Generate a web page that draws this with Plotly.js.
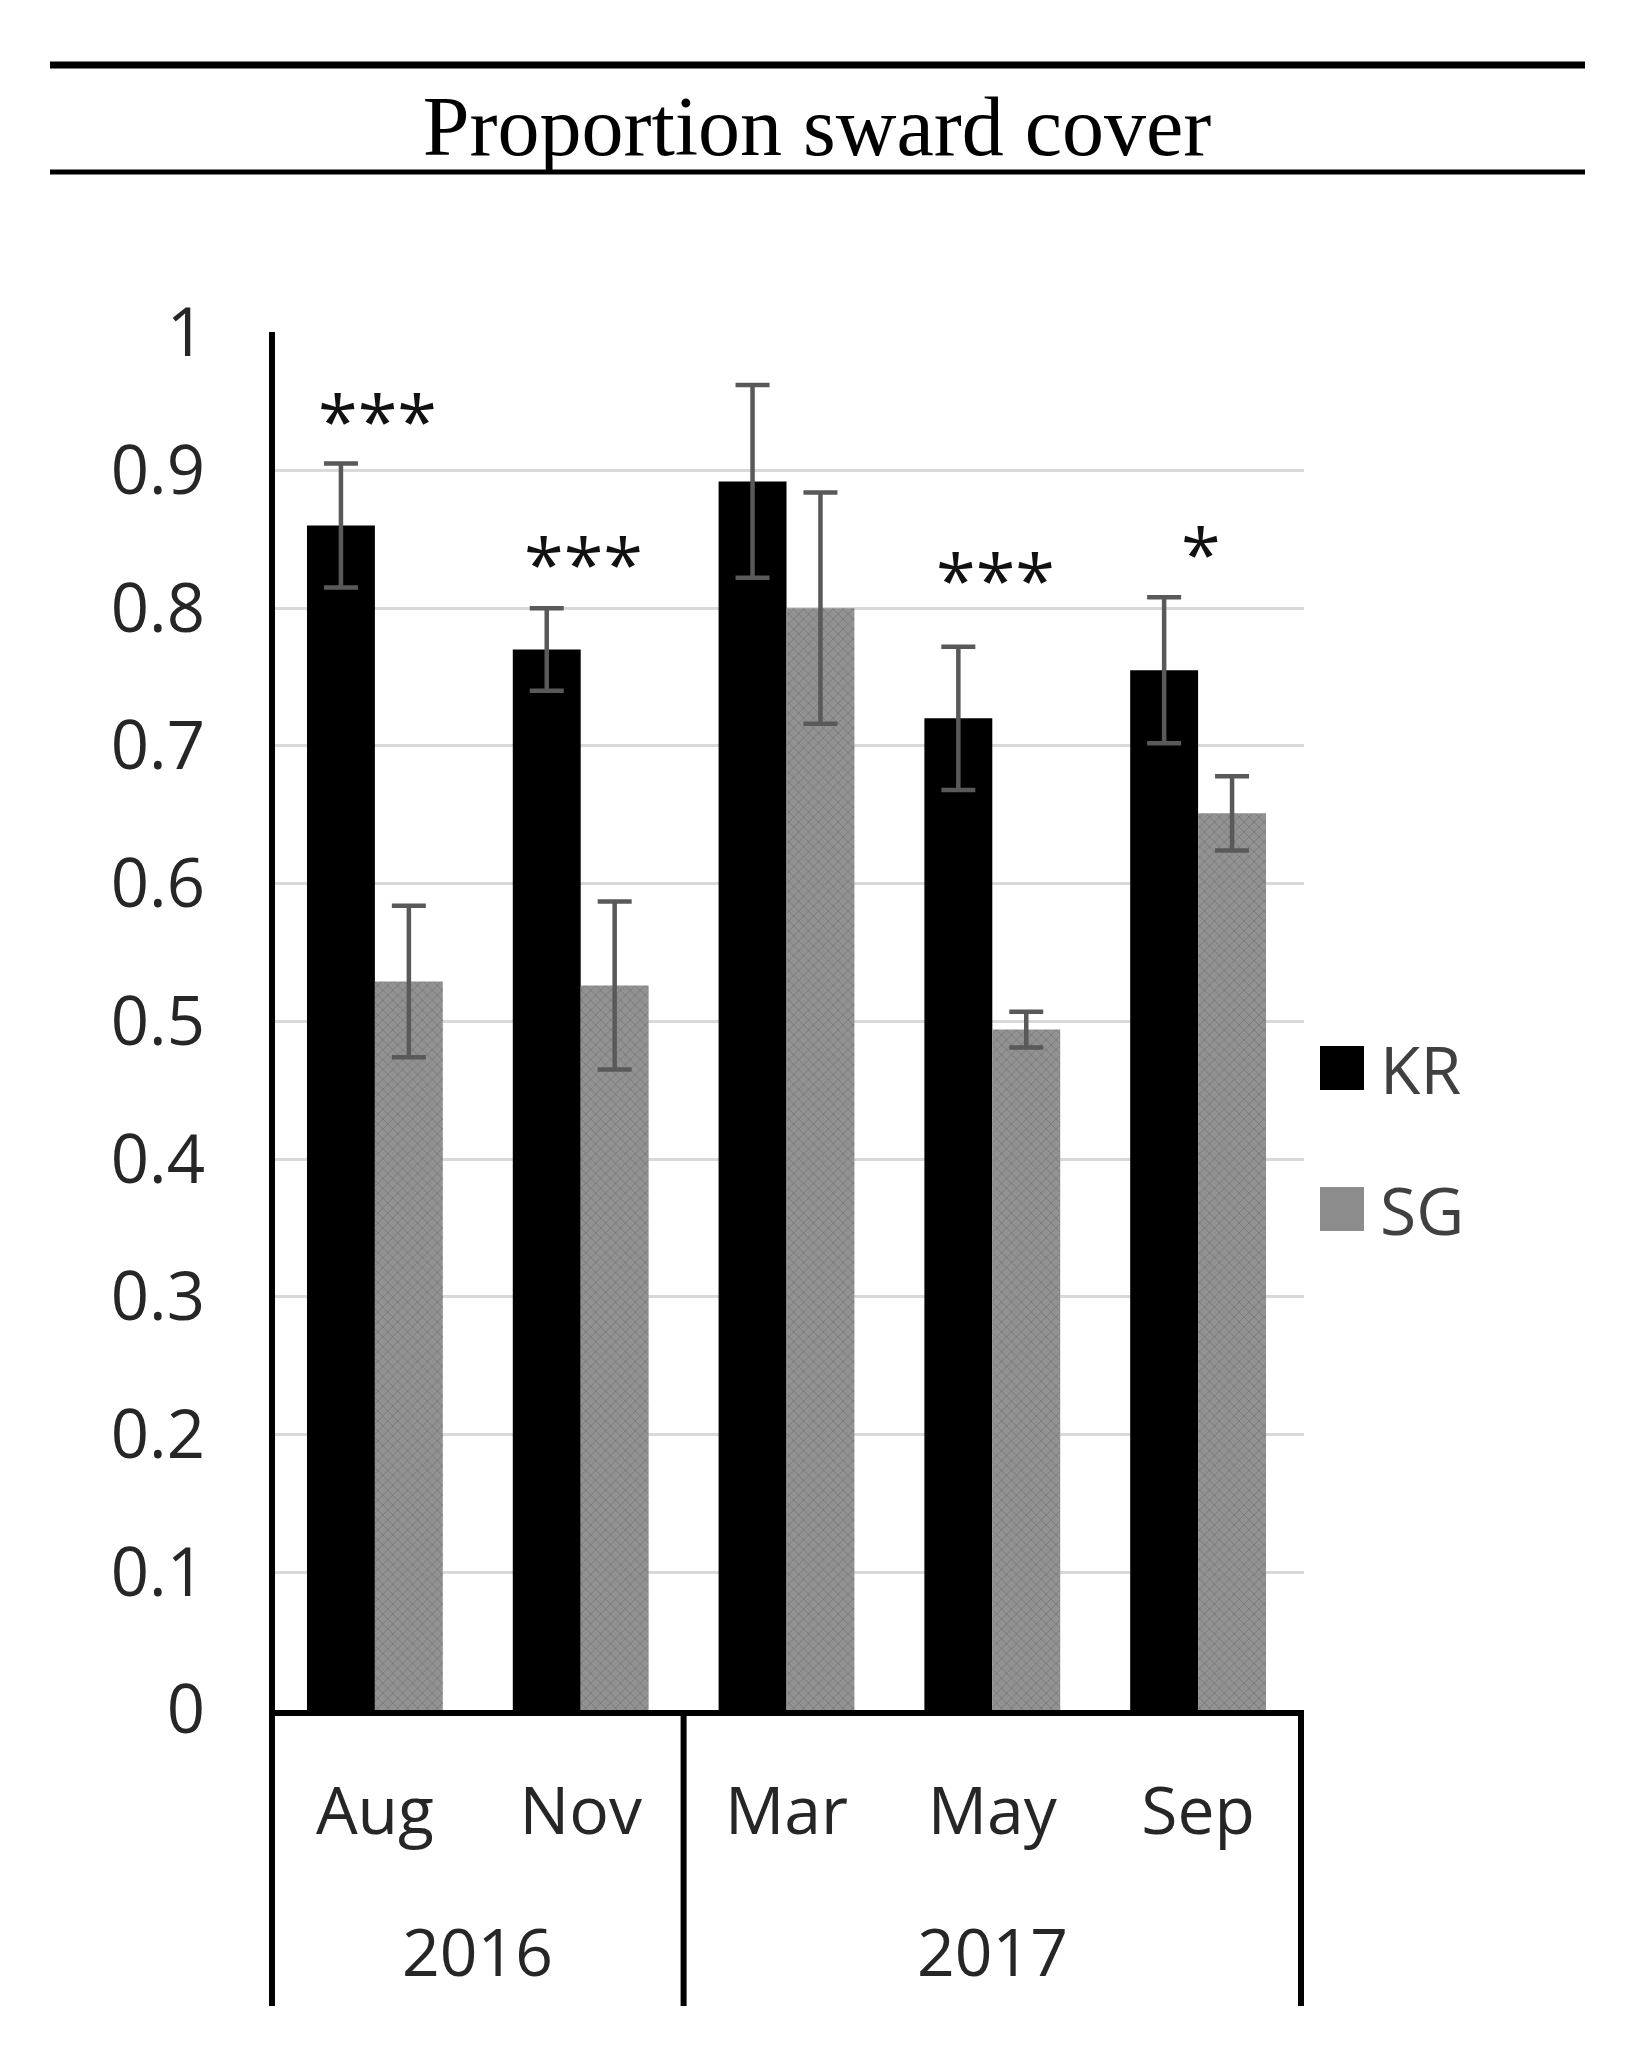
<!DOCTYPE html>
<html>
<head>
<meta charset="utf-8">
<script src="https://cdn.plot.ly/plotly-3.0.1.min.js"></script>
<style>
  html, body { margin: 0; padding: 0; background: #ffffff; }
  #chart { width: 1634px; height: 2059px; }
</style>
</head>
<body>
<div id="chart"></div>
<script>
// ---- data ----
const years  = ['2016', '2016', '2017', '2017', '2017'];
const months = ['Aug', 'Nov', 'Mar', 'May', 'Sep'];
const krMean = [0.860, 0.770, 0.892, 0.720, 0.755];
const krErr  = [0.045, 0.030, 0.070, 0.052, 0.053];
const sgMean = [0.529, 0.526, 0.800, 0.494, 0.651];
const sgErr  = [0.055, 0.061, 0.084, 0.013, 0.027];
const sigText = ['***', '***', '', '***', '*'];
const sigY    = [0.942, 0.838, null, 0.826, 0.845];
const seriesNames = ['KR', 'SG'];
const seriesColors = ['#000000', '#8c8c8c'];

const FONT = '"Open Sans", "Noto Sans", sans-serif';
const errColor = '#595959';
const textColor = '#262626';

// plot geometry (pixels)
const W = 1634, H = 2059;
const M = { l: 269, r: 330, t: 332, b: 349 };
const PW = W - M.l - M.r, PH = H - M.t - M.b;
const zeroPx = H - M.b;
const px2x = p => (p - M.l) / PW;        // pixel -> paper x
const px2y = p => (zeroPx - p) / PH;     // pixel -> paper y

const traces = [
  {
    type: 'bar', name: seriesNames[0], x: months, y: krMean,
    marker: { color: seriesColors[0] },
    error_y: { type: 'data', array: krErr, visible: true, color: errColor, thickness: 4.5, width: 17 },
    showlegend: false, hoverinfo: 'y'
  },
  {
    type: 'bar', name: seriesNames[1], x: months, y: sgMean,
    marker: { color: seriesColors[1],
      pattern: { shape: 'x', fgcolor: '#7a7a7a', bgcolor: '#929292', size: 7, solidity: 0.25 } },
    error_y: { type: 'data', array: sgErr, visible: true, color: errColor, thickness: 4.5, width: 17 },
    showlegend: false, hoverinfo: 'y'
  }
];

const annotations = [];
const shapes = [];

// significance marks
for (let i = 0; i < months.length; i++) {
  if (!sigText[i]) continue;
  annotations.push({
    x: months[i], xref: 'x', y: sigY[i], yref: 'y',
    text: sigText[i], showarrow: false, xanchor: 'center', yanchor: 'middle',
    xshift: 3, yshift: -6, font: { family: FONT, size: 72, color: '#111111' }
  });
}

// year groups: labels and dividers computed from the years array
const groups = [];
years.forEach((yr, i) => {
  const g = groups[groups.length - 1];
  if (g && g.name === yr) g.end = i; else groups.push({ name: yr, start: i, end: i });
});
const dividerBottom = px2y(2006);
function divider(xcat, top) {
  shapes.push({ type: 'line', xref: 'x', x0: xcat, x1: xcat,
    yref: 'paper', y0: top, y1: dividerBottom, line: { color: '#000000', width: 6 } });
}
groups.forEach((g, k) => {
  annotations.push({
    x: (g.start + g.end) / 2, xref: 'x', y: px2y(1950), yref: 'paper',
    text: g.name, showarrow: false, xanchor: 'center', yanchor: 'middle',
    font: { family: FONT, size: 66, color: textColor }
  });
  // the first divider also serves as the value-axis line
  if (k === 0) divider(g.start - 0.5, 1);
  divider(g.end + 0.5, 0);
});

// custom legend with large swatches
const legendCy = [1068, 1209];
seriesNames.forEach((nm, k) => {
  shapes.push({
    type: 'rect', xref: 'paper', yref: 'paper',
    x0: px2x(1320), x1: px2x(1364), y0: px2y(legendCy[k] + 22), y1: px2y(legendCy[k] - 22),
    fillcolor: seriesColors[k], line: { width: 0 }
  });
  annotations.push({
    x: px2x(1378), xref: 'paper', y: px2y(legendCy[k]), yref: 'paper',
    text: nm, showarrow: false, xanchor: 'left', yanchor: 'middle',
    font: { family: FONT, size: 66, color: '#404040' }
  });
});

// title rules
shapes.push({ type: 'line', xref: 'paper', yref: 'paper', x0: px2x(50), x1: px2x(1585),
  y0: px2y(65), y1: px2y(65), line: { color: '#000000', width: 7 } });
shapes.push({ type: 'line', xref: 'paper', yref: 'paper', x0: px2x(50), x1: px2x(1585),
  y0: px2y(172), y1: px2y(172), line: { color: '#000000', width: 5 } });

const layout = {
  width: W, height: H,
  paper_bgcolor: '#ffffff', plot_bgcolor: '#ffffff',
  margin: { l: M.l, r: M.r, t: M.t, b: M.b, pad: 0 },
  title: {
    text: 'Proportion sward cover',
    font: { family: '"Liberation Serif", "DejaVu Serif", serif', size: 84, color: '#000000' },
    x: 0.5, xref: 'container', xanchor: 'center',
    y: 1 - 126 / H, yref: 'container', yanchor: 'middle'
  },
  barmode: 'group', bargap: 0.34, bargroupgap: 0,
  showlegend: false,
  xaxis: {
    type: 'category',
    showline: true, linecolor: '#000000', linewidth: 6,
    showgrid: false, zeroline: false,
    ticks: '',
    tickfont: { family: FONT, size: 66, color: textColor },
    ticklabelstandoff: 39
  },
  yaxis: {
    range: [0, 1.0005], dtick: 0.1, tick0: 0,
    showline: false,
    showgrid: true, gridcolor: '#d9d9d9', gridwidth: 3,
    zeroline: false, ticks: '',
    ticklabelstandoff: 63,
    tickfont: { family: FONT, size: 67, color: textColor }
  },
  annotations: annotations,
  shapes: shapes
};

Plotly.newPlot('chart', traces, layout, { staticPlot: true, displayModeBar: false });
</script>
</body>
</html>
